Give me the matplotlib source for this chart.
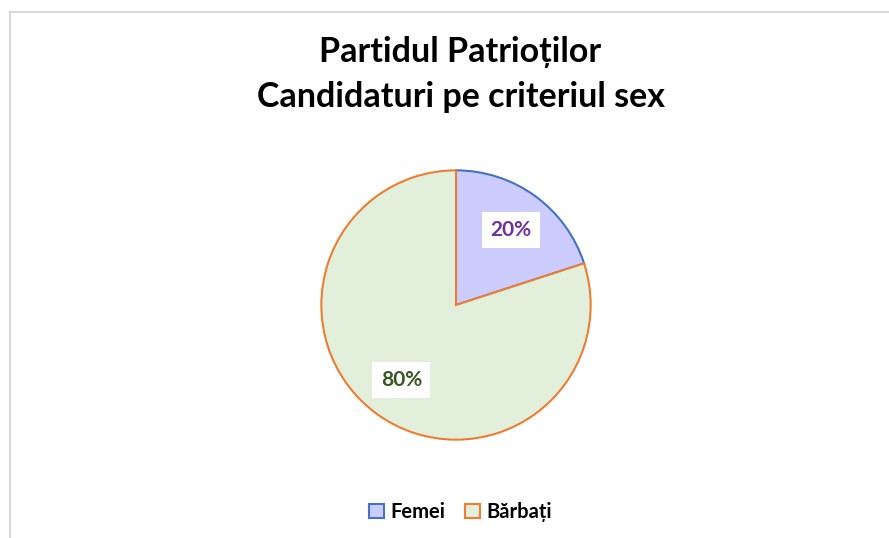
import matplotlib.pyplot as plt
from matplotlib.patches import Patch
from matplotlib.lines import Line2D

plt.rcParams['font.family'] = ['Lato', 'DejaVu Sans']

labels = ['Femei', 'Bărbați']
values = [20, 80]
face_colors = ['#CCCCFF', '#E2EFDA']
edge_colors = ['#4472C4', '#ED7D31']
pct_colors = ['#7030A0', '#375623']

fig = plt.figure(figsize=(8.89, 5.38), dpi=100)

# chart frame (top and left border, like the screenshot)
fig.add_artist(Line2D([10/889, 1], [1 - 12/538, 1 - 12/538], color='#D9D9D9', lw=1.5))
fig.add_artist(Line2D([10/889, 10/889], [0, 1 - 12/538], color='#D9D9D9', lw=1.5))

ax = fig.add_axes([320/889, 97/538, 272/889, 272/538])
wedges, texts, autotexts = ax.pie(values, startangle=90, counterclock=False,
                                  colors=face_colors, autopct='%1.0f%%',
                                  pctdistance=0.69, radius=1,
                                  wedgeprops=dict(linewidth=1.5))
for w, ec in zip(wedges, edge_colors):
    w.set_edgecolor(ec)
# second wedge edge drawn on top (orange on shared borders)
wedges[1].set_zorder(3)
for t, c in zip(autotexts, pct_colors):
    t.set_color(c)
    t.set_fontsize(15)
    t.set_fontweight('bold')
    t.set_zorder(5)
    t.set_bbox(dict(facecolor='white', edgecolor='none', pad=6))
ax.set_aspect('equal')
ax.set_xlim(-1.01, 1.01)
ax.set_ylim(-1.01, 1.01)

fig.text(0.518, 1 - 52/538, 'Partidul Patrioților', ha='center', va='center',
         fontsize=24.5, fontweight='bold')
fig.text(0.518, 1 - 97/538, 'Candidaturi pe criteriul sex', ha='center', va='center',
         fontsize=24.5, fontweight='bold')

handles = [Patch(facecolor=f, edgecolor=e, linewidth=1.5, label=l)
           for f, e, l in zip(face_colors, edge_colors, labels)]
fig.legend(handles=handles, loc='center', bbox_to_anchor=(0.518, 1 - 512/538),
           ncol=2, frameon=False, prop=dict(size=14.5, weight='bold'),
           handlelength=0.75, handleheight=0.75, handletextpad=0.3, columnspacing=1.0)

fig.savefig('out.png', dpi=100, facecolor='white')
